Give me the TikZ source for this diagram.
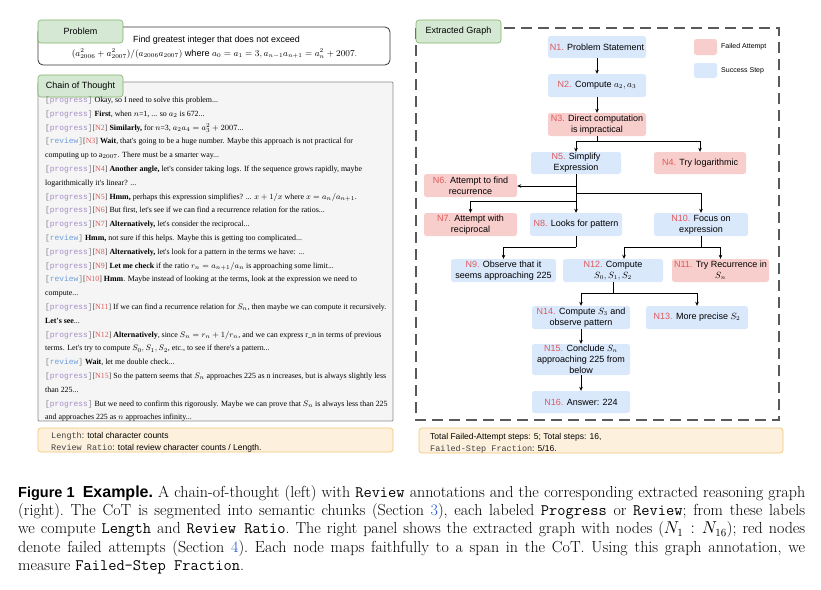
\documentclass[tikz,border=0pt]{standalone}
\usepackage{fontspec}
\newfontfamily\nsans{Liberation Sans}
\newfontfamily\cserif{Liberation Serif}
\newfontfamily\cmono{Liberation Mono}
\usetikzlibrary{arrows.meta}
\definecolor{bfill}{HTML}{DAE8FC}
\definecolor{rfill}{HTML}{F8CECC}
\definecolor{gfill}{HTML}{D5E8D4}
\definecolor{gdraw}{HTML}{82B366}
\definecolor{yfill}{HTML}{FDF1DE}
\definecolor{ydraw}{HTML}{F2C97A}
\definecolor{nred}{HTML}{E05A5A}
\definecolor{progc}{HTML}{A58CC8}
\definecolor{revc}{HTML}{6E9FDB}
\definecolor{capblue}{HTML}{2255CC}
\definecolor{cotfill}{HTML}{F5F5F5}
\newcommand{\cotP}{{\cmono\color{gray}[{\color{progc}progress}]}}
\newcommand{\cotR}{{\cmono\color{gray}[{\color{revc}review}]}}
\newcommand{\cotN}[1]{{\color{darkgray}[}{\color{nred}#1}{\color{darkgray}]}}
\newcommand{\nlab}[1]{{\color{nred}#1.}}
\begin{document}
\begin{tikzpicture}[x=1pt,y=-1pt,
  box/.style={rounded corners=2.5pt, inner sep=1pt, align=center, font=\nsans\fontsize{9}{11}\selectfont},
  bn/.style={box, fill=bfill},
  rn/.style={box, fill=rfill},
  tab/.style={fill=gfill, draw=gdraw, line width=0.6pt, rounded corners=3pt, inner sep=0pt, font=\nsans\fontsize{9}{11}\selectfont},
  arr/.style={-{Stealth[length=4pt,width=3.6pt]}, line width=0.7pt},
  ln/.style={line width=0.7pt},
  cot/.style={anchor=base west, inner sep=0pt, font=\cserif\fontsize{7.9}{8}\selectfont},
  ybox/.style={fill=yfill, draw=ydraw, line width=0.7pt, rounded corners=3pt},
  ytxt/.style={anchor=base west, inner sep=0pt, font=\nsans\fontsize{8.5}{10}\selectfont},
  lgd/.style={anchor=west, inner sep=0pt, font=\nsans\fontsize{7}{8}\selectfont}
]
\fill[white] (0,0) rectangle (821,589);
\useasboundingbox (0,0) rectangle (821,589);

% ---------- Problem ----------
\draw[draw=black!80, line width=0.8pt, rounded corners=5pt] (38,27) rectangle (390,65);
\node[tab, minimum width=85pt, minimum height=23pt] (ptab) at (80.5,31.5) {Problem};
\node[font=\nsans\fontsize{8.9}{10}\selectfont, inner sep=0pt] (pt1) at (216.5,40.5) {Find greatest integer that does not exceed};
\node[font=\nsans\fontsize{9.1}{10}\selectfont, inner sep=0pt] (pt2) at (214.5,54) {$(a_{2006}^2+a_{2007}^2)/(a_{2006}a_{2007})$ where $a_0=a_1=3, a_{n-1}a_{n+1}=a_n^2+2007.$};

% ---------- Chain of Thought ----------
\draw[fill=cotfill, draw=black!45, line width=0.8pt, rounded corners=1pt] (38,82) rectangle (393,421);
\node[tab, minimum width=85pt, minimum height=22pt] (ctab) at (80.5,86) {Chain of Thought};

\node[cot] (c1) at (45,102.5) {\cotP{} Okay, so I need to solve this problem...};
\node[cot] (c2) at (45,116.3) {\cotP{} \textbf{First}, when $n$=1, ... so $a_2$ is 672...};
\node[cot] (c3) at (45,130.1) {\cotP\cotN{N2} \textbf{Similarly,} for $n$=3, $a_2a_4=a_3^2+2007$...};
\node[cot] (c4) at (45,143.9) {\cotR\cotN{N3} \textbf{Wait}, that's going to be a huge number. Maybe this approach is not practical for};
\node[cot] (c5) at (45,157.7) {computing up to a$_{2007}$. There must be a smarter way...};
\node[cot] (c6) at (45,171.5) {\cotP\cotN{N4} \textbf{Another angle,} let's consider taking logs. If the sequence grows rapidly, maybe};
\node[cot] (c7) at (45,185.3) {logarithmically it's linear? ...};
\node[cot] (c8) at (45,199.1) {\cotP\cotN{N5} \textbf{Hmm,} perhaps this expression simplifies? ... $x+1/x$ where $x=a_n/a_{n+1}$.};
\node[cot] (c9) at (45,212.9) {\cotP\cotN{N6} But first, let's see if we can find a recurrence relation for the ratios...};
\node[cot] (c10) at (45,226.7) {\cotP\cotN{N7} \textbf{Alternatively,} let's consider the reciprocal...};
\node[cot] (c11) at (45,240.5) {\cotR{} \textbf{Hmm,} not sure if this helps. Maybe this is getting too complicated...};
\node[cot] (c12) at (45,254.3) {\cotP\cotN{N8} \textbf{Alternatively,} let's look for a pattern in the terms we have: ...};
\node[cot] (c13) at (45,268.1) {\cotP\cotN{N9} \textbf{Let me check} if the ratio $r_n=a_{n+1}/a_n$ is approaching some limit...};
\node[cot] (c14) at (45,281.9) {\cotR\cotN{N10} \textbf{Hmm}. Maybe instead of looking at the terms, look at the expression we need to};
\node[cot] (c15) at (45,295.7) {compute...};
\node[cot] (c16) at (45,309.5) {\cotP\cotN{N11} If we can find a recurrence relation for $S_n$, then maybe we can compute it recursively.};
\node[cot] (c17) at (45,323.3) {\textbf{Let's see}...};
\node[cot] (c18) at (45,337.1) {\cotP\cotN{N12} \textbf{Alternatively}, since $S_n=r_n+1/r_n$, and we can express r\_n in terms of previous};
\node[cot] (c19) at (45,350.9) {terms. Let's try to compute $S_0, S_1, S_2$, etc., to see if there's a pattern...};
\node[cot] (c20) at (45,364.7) {\cotR{} \textbf{Wait}, let me double check...};
\node[cot] (c21) at (45,378.5) {\cotP\cotN{N15} So the pattern seems that $S_n$ approaches 225 as n increases, but is always slightly less};
\node[cot] (c22) at (45,392.3) {than 225...};
\node[cot] (c23) at (45,406.1) {\cotP{} But we need to confirm this rigorously. Maybe we can prove that $S_n$ is always less than 225};
\node[cot] (c24) at (45,419.4) {and approaches 225 as $n$ approaches infinity...};

% ---------- yellow boxes ----------
\draw[ybox] (38,428) rectangle (393,452);
\node[ytxt] (y1) at (51,438) {{\cmono\color{darkgray}Length}: total character counts};
\node[ytxt] (y2) at (51,450) {{\cmono\color{darkgray}Review Ratio}: total review character counts / Length.};
\draw[ybox] (419,428) rectangle (783,453);
\node[ytxt] (y3) at (430,439) {Total Failed-Attempt steps: 5; Total steps: 16,};
\node[ytxt] (y4) at (430,451) {{\cmono\color{darkgray}Failed-Step Fraction}: 5/16.};

% ---------- Extracted Graph ----------
\draw[dash pattern=on 11pt off 6pt, line width=1.1pt, draw=black!65] (416,28) rectangle (779,420);
\node[tab, minimum width=85pt, minimum height=23pt] (gtab) at (458.5,31.5) {Extracted Graph};

\node[rn, minimum width=23pt, minimum height=16pt] (lf) at (705.5,47) {};
\node[lgd] (lft) at (721,47) {Failed Attempt};
\node[bn, minimum width=23pt, minimum height=15pt] (ls) at (705.5,70.5) {};
\node[lgd] (lst) at (721,70.5) {Success Step};

\node[bn, minimum width=98pt, minimum height=22pt] (n1) at (597,47) {\nlab{N1} Problem Statement};
\node[bn, minimum width=98pt, minimum height=23pt] (n2) at (597,85.5) {\nlab{N2} Compute $a_2, a_3$};
\node[rn, minimum width=98pt, minimum height=23pt] (n3) at (597,124.5) {\nlab{N3} Direct computation\\is impractical};
\node[bn, minimum width=90pt, minimum height=22pt] (n5) at (576,163) {\nlab{N5} Simplify\\Expression};
\node[rn, minimum width=92pt, minimum height=22pt] (n4) at (700,163) {\nlab{N4} Try logarithmic};
\node[rn, minimum width=93pt, minimum height=23pt] (n6) at (470.5,185.5) {\nlab{N6} Attempt to find\\recurrence};
\node[rn, minimum width=93pt, minimum height=23pt] (n7) at (470.5,224.5) {\nlab{N7} Attempt with\\reciprocal};
\node[bn, minimum width=92pt, minimum height=23pt] (n8) at (576,224.5) {\nlab{N8} Looks for pattern};
\node[bn, minimum width=94pt, minimum height=23pt] (n10) at (701,224.5) {\nlab{N10} Focus on\\expression};
\node[bn, minimum width=105pt, minimum height=23pt] (n9) at (503.5,270.5) {\nlab{N9} Observe that it\\seems approaching 225};
\node[bn, minimum width=100pt, minimum height=23pt] (n12) at (613,270.5) {\nlab{N12} Compute\\$S_0, S_1, S_2$};
\node[rn, minimum width=97pt, minimum height=23pt] (n11) at (720.5,270.5) {\nlab{N11} Try Recurrence in\\$S_n$};
\node[bn, minimum width=98pt, minimum height=23pt] (n14) at (581,317.5) {\nlab{N14} Compute $S_3$ and\\observe pattern};
\node[bn, minimum width=102pt, minimum height=23pt] (n13) at (697,317.5) {\nlab{N13} More precise $S_2$};
\node[bn, minimum width=98pt, minimum height=31pt] (n15) at (581,359.5) {\nlab{N15} Conclude $S_n$\\approaching 225 from\\below};
\node[bn, minimum width=98pt, minimum height=22pt] (n16) at (581,402) {\nlab{N16} Answer: 224};

% connectors
\draw[arr] (n1) -- (n2);
\draw[arr] (n2) -- (n3);
\coordinate (b3) at (597,141);
\draw[ln] (n3.south) -- (b3);
\draw[arr] (b3) -| (n5.north);
\draw[arr] (b3) -| (n4.north);
\draw[arr] (n5.south) -- (n8.north);
\coordinate (b6) at (576,186);
\draw[arr] (b6) -- (b6 -| n6.east);
\coordinate (b10) at (576,193);
\draw[arr] (b10) -| (n10.north);
\coordinate (b7) at (576,201);
\draw[arr] (b7) -| (n7.north);
\coordinate (b8) at (576,247);
\draw[ln] (n8.south) -- (b8);
\draw[arr] (b8) -| (n9.north);
\coordinate (b10b) at (701,247);
\draw[ln] (n10.south) -- (b10b);
\draw[arr] (b10b) -| ([xshift=11pt]n12.north);
\draw[arr] (b10b) -| (n11.north);
\coordinate (b12) at (613,293);
\draw[ln] (n12.south) -- (b12);
\draw[arr] (b12) -| (n14.north);
\draw[arr] (b12) -| (n13.north);
\draw[arr] (n14) -- (n15);
\draw[arr] (n15) -- (n16);

% ---------- caption ----------
\node[anchor=north west, inner sep=0pt, text width=787pt, align=justify, font=\fontsize{16}{18.4}\selectfont\frenchspacing] (cap) at (18,485) {{\nsans\bfseries{\fontsize{14.5}{18.4}\selectfont Figure 1}\enspace Example.} A chain-of-thought (left) with \texttt{Review} annotations and the corresponding extracted reasoning graph\linebreak (right). The CoT is segmented into semantic chunks (Section {\color{capblue}3}), each labeled \texttt{Progress} or \texttt{Review}; from these labels\linebreak we compute \texttt{Length} and \texttt{Review Ratio}. The right panel shows the extracted graph with nodes ($N_1:N_{16}$); red nodes\linebreak denote failed attempts (Section {\color{capblue}4}). Each node maps faithfully to a span in the CoT. Using this graph annotation, we\linebreak measure \texttt{Failed-Step Fraction}.};
\end{tikzpicture}
\end{document}
